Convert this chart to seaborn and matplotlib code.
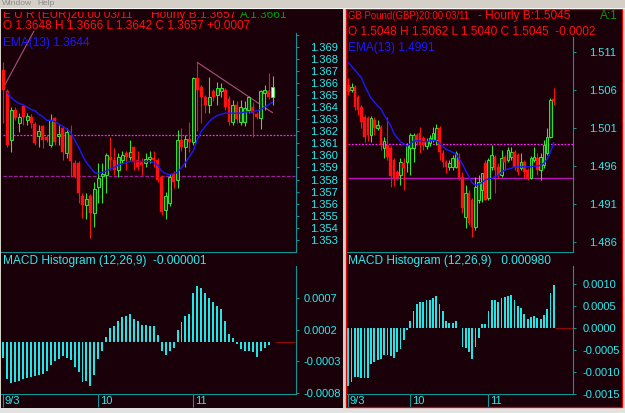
import numpy as np
import pandas as pd
import matplotlib
matplotlib.use("Agg")
import matplotlib.pyplot as plt
import matplotlib.transforms as mtransforms
from matplotlib import font_manager
from matplotlib.patches import Rectangle
import seaborn as sns

# ---------------- EUR window (left) ----------------
eur_open = [1.3671, 1.3653, 1.3613, 1.3638, 1.3627, 1.3641, 1.3629, 1.3632, 1.3626, 1.3616,
            1.3624, 1.3615, 1.3609, 1.3631, 1.3616, 1.3623, 1.3602, 1.3617, 1.3594, 1.3594,
            1.3566, 1.3559, 1.3566, 1.3552, 1.3574, 1.3583, 1.3584, 1.3599, 1.3596, 1.3588,
            1.3596, 1.3602, 1.3599, 1.3607, 1.3596, 1.3595, 1.3594, 1.3597, 1.3598, 1.3596,
            1.3582, 1.3555, 1.3561, 1.3585, 1.3580, 1.3613, 1.3607, 1.3614, 1.3611, 1.3664,
            1.3657, 1.3648, 1.3642, 1.3653, 1.3650, 1.3653, 1.3654, 1.3647, 1.3628, 1.3642,
            1.3628, 1.3628, 1.3638, 1.3640, 1.3634, 1.3631, 1.3652, 1.3653, 1.3648]
eur_high = [1.3677, 1.3655, 1.3640, 1.3640, 1.3635, 1.3642, 1.3635, 1.3634, 1.3628, 1.3625,
            1.3625, 1.3617, 1.3634, 1.3632, 1.3625, 1.3624, 1.3623, 1.3625, 1.3596, 1.3595,
            1.3569, 1.3569, 1.3568, 1.3578, 1.3594, 1.3594, 1.3602, 1.3615, 1.3606, 1.3602,
            1.3604, 1.3604, 1.3613, 1.3607, 1.3604, 1.3598, 1.3602, 1.3604, 1.3604, 1.3598,
            1.3584, 1.3570, 1.3585, 1.3587, 1.3621, 1.3623, 1.3617, 1.3628, 1.3665, 1.3677,
            1.3658, 1.3650, 1.3665, 1.3655, 1.3661, 1.3660, 1.3656, 1.3649, 1.3646, 1.3645,
            1.3646, 1.3645, 1.3649, 1.3644, 1.3636, 1.3654, 1.3658, 1.3668, 1.3666]
eur_low = [1.3627, 1.3607, 1.3603, 1.3629, 1.3619, 1.3625, 1.3625, 1.3623, 1.3609, 1.3607,
           1.3606, 1.3611, 1.3607, 1.3609, 1.3609, 1.3596, 1.3598, 1.3582, 1.3581, 1.3561,
           1.3548, 1.3547, 1.3532, 1.3541, 1.3561, 1.3561, 1.3569, 1.3588, 1.3584, 1.3582,
           1.3594, 1.3588, 1.3596, 1.3588, 1.3588, 1.3584, 1.3590, 1.3594, 1.3590, 1.3578,
           1.3551, 1.3547, 1.3558, 1.3573, 1.3573, 1.3604, 1.3590, 1.3603, 1.3609, 1.3620,
           1.3627, 1.3635, 1.3635, 1.3645, 1.3642, 1.3648, 1.3638, 1.3625, 1.3625, 1.3627,
           1.3625, 1.3624, 1.3635, 1.3615, 1.3630, 1.3622, 1.3638, 1.3647, 1.3642]
eur_close = [1.3654, 1.3609, 1.3638, 1.3631, 1.3632, 1.3632, 1.3633, 1.3627, 1.3610, 1.3620,
             1.3613, 1.3613, 1.3629, 1.3611, 1.3618, 1.3603, 1.3619, 1.3595, 1.3582, 1.3569,
             1.3559, 1.3564, 1.3552, 1.3572, 1.3581, 1.3585, 1.3600, 1.3596, 1.3588, 1.3599,
             1.3600, 1.3599, 1.3603, 1.3595, 1.3590, 1.3592, 1.3597, 1.3599, 1.3596, 1.3580,
             1.3553, 1.3566, 1.3582, 1.3578, 1.3613, 1.3607, 1.3614, 1.3611, 1.3664, 1.3654,
             1.3648, 1.3642, 1.3648, 1.3648, 1.3656, 1.3656, 1.3640, 1.3628, 1.3642, 1.3630,
             1.3640, 1.3639, 1.3648, 1.3635, 1.3632, 1.3653, 1.3654, 1.3648, 1.3657]
eur_ema13 = [np.nan, 1.3652, 1.3648, 1.3645, 1.3643, 1.3642, 1.3640, 1.3638, 1.3637, 1.3634,
             1.3632, 1.3629, 1.3629, 1.3628, 1.3626, 1.3624, 1.3622, 1.3619, 1.3613, 1.3607,
             1.3600, 1.3594, 1.3590, 1.3586, 1.3585, 1.3586, 1.3587, 1.3589, 1.3590, 1.3592,
             1.3593, 1.3594, 1.3595, 1.3595, 1.3595, 1.3595, 1.3595, 1.3595, 1.3594, 1.3592,
             1.3587, 1.3585, 1.3584, 1.3585, 1.3586, 1.3590, 1.3594, 1.3599, 1.3604, 1.3613,
             1.3620, 1.3624, 1.3628, 1.3631, 1.3633, 1.3634, 1.3635, 1.3635, 1.3635, 1.3635,
             1.3635, 1.3636, 1.3636, 1.3636, 1.3637, 1.3638, 1.3640, 1.3642, 1.3644]
eur_macd = [-0.00025, -0.00057, -0.00064, -0.00062, -0.00061, -0.00058, -0.00056, -0.00054, -0.00053, -0.00052,
            -0.00050, -0.00045, -0.00035, -0.00030, -0.00026, -0.00022, -0.00025, -0.00028, -0.00039, -0.00047,
            -0.00063, -0.00061, -0.00068, -0.00052, -0.00026, -0.00013, 0.00009, 0.00022, 0.00025, 0.00033,
            0.00039, 0.00041, 0.00044, 0.00037, 0.00033, 0.00027, 0.00027, 0.00026, 0.00025, 0.00011,
            -0.00013, -0.00020, -0.00013, -0.00009, 0.00020, 0.00032, 0.00041, 0.00045, 0.00078, 0.00088,
            0.00085, 0.00077, 0.00070, 0.00063, 0.00057, 0.00052, 0.00033, 0.00013, 0.00006, -0.00003,
            -0.00010, -0.00013, -0.00014, -0.00015, -0.00023, -0.00014, -0.00009, -0.00005, -0.000001]
eur_levels = [1.36167, 1.35827]
eur_trend_x = [[0, 7.75], [49, 68]]
eur_trend_y = [[1.3656, 1.3703], [1.3677, 1.36354]]
eur_price_ticks = [1.370, 1.369, 1.368, 1.367, 1.366, 1.365, 1.364, 1.363, 1.362, 1.361,
                   1.360, 1.359, 1.358, 1.357, 1.356, 1.355, 1.354, 1.353]
eur_price_labels = ['', '1.369', '1.368', '1.367', '1.366', '1.365', '1.364', '1.363', '1.362',
                    '1.361', '1.360', '1.359', '1.358', '1.357', '1.356', '1.355', '1.354', '1.353']
eur_macd_ticks = [0.0007, 0.0002, -0.0003, -0.0008]
eur_macd_labels = ['0.0007', '0.0002', '-0.0003', '-0.0008']
eur_date_ticks = [0, 24, 48]
date_labels = ['9/3', '10', '11']

# ---------------- GBP window (right) ----------------
gbp_open = [1.5066, 1.5060, 1.5064, 1.5051, 1.5037, 1.5024, 1.5023, 1.5001, 1.5020, 1.5010,
            1.5011, 1.4984, 1.4988, 1.4984, 1.4968, 1.4952, 1.4948, 1.4964, 1.4965, 1.4984,
            1.4984, 1.5001, 1.5003, 1.4997, 1.4986, 1.4990, 1.4994, 1.4994, 1.5010, 1.4977,
            1.4965, 1.4959, 1.4959, 1.4959, 1.4972, 1.4946, 1.4893, 1.4925, 1.4916, 1.4880,
            1.4916, 1.4929, 1.4964, 1.4918, 1.4959, 1.4972, 1.4959, 1.4948, 1.4972, 1.4968,
            1.4972, 1.4978, 1.4974, 1.4957, 1.4965, 1.4955, 1.4944, 1.4968, 1.4971, 1.4955,
            1.4961, 1.4977, 1.4998, 1.5048]
gbp_high = [1.5076, 1.5069, 1.5066, 1.5053, 1.5040, 1.5027, 1.5026, 1.5026, 1.5024, 1.5020,
            1.5014, 1.4998, 1.5024, 1.4986, 1.4971, 1.4955, 1.4971, 1.4971, 1.4990, 1.5003,
            1.5003, 1.5003, 1.5011, 1.4999, 1.4997, 1.5001, 1.5011, 1.5015, 1.5013, 1.4981,
            1.4968, 1.4968, 1.4974, 1.4980, 1.4977, 1.4952, 1.4935, 1.4929, 1.4918, 1.4946,
            1.4948, 1.4951, 1.4968, 1.4971, 1.4988, 1.4974, 1.4964, 1.4981, 1.4974, 1.4985,
            1.4985, 1.4981, 1.4977, 1.4977, 1.4968, 1.4957, 1.4973, 1.4985, 1.4977, 1.4977,
            1.4994, 1.5010, 1.5049, 1.5062]
gbp_low = [1.5053, 1.5057, 1.5034, 1.5027, 1.5010, 1.4992, 1.4993, 1.4992, 1.5001, 1.5007,
           1.4981, 1.4971, 1.4968, 1.4933, 1.4934, 1.4942, 1.4935, 1.4929, 1.4952, 1.4948,
           1.4965, 1.4988, 1.4977, 1.4981, 1.4982, 1.4986, 1.4992, 1.4988, 1.4968, 1.4959,
           1.4951, 1.4955, 1.4955, 1.4957, 1.4942, 1.4898, 1.4879, 1.4883, 1.4867, 1.4876,
           1.4912, 1.4913, 1.4916, 1.4916, 1.4955, 1.4925, 1.4944, 1.4946, 1.4955, 1.4965,
           1.4968, 1.4955, 1.4948, 1.4955, 1.4944, 1.4942, 1.4943, 1.4965, 1.4948, 1.4942,
           1.4957, 1.4974, 1.4997, 1.5040]
gbp_close = [1.5057, 1.5064, 1.5037, 1.5034, 1.5018, 1.4998, 1.5001, 1.5023, 1.5010, 1.5014,
             1.4988, 1.4993, 1.4972, 1.4947, 1.4944, 1.4944, 1.4965, 1.4957, 1.4988, 1.5001,
             1.5001, 1.4992, 1.4988, 1.4988, 1.4993, 1.4997, 1.5003, 1.5010, 1.4978, 1.4965,
             1.4959, 1.4964, 1.4971, 1.4977, 1.4944, 1.4905, 1.4925, 1.4885, 1.4880, 1.4933,
             1.4939, 1.4951, 1.4916, 1.4968, 1.4974, 1.4955, 1.4948, 1.4971, 1.4965, 1.4981,
             1.4978, 1.4959, 1.4952, 1.4965, 1.4952, 1.4944, 1.4971, 1.4972, 1.4955, 1.4972,
             1.4988, 1.4998, 1.5047, 1.5045]
gbp_ema13 = [1.5096, 1.5091, 1.5086, 1.5081, 1.5076, 1.5066, 1.5057, 1.5049, 1.5044, 1.5039,
             1.5035, 1.5027, 1.5020, 1.5013, 1.5003, 1.4997, 1.4992, 1.4989, 1.4986, 1.4989,
             1.4993, 1.4993, 1.4993, 1.4992, 1.4992, 1.4993, 1.4994, 1.4993, 1.4990, 1.4986,
             1.4982, 1.4980, 1.4978, 1.4976, 1.4969, 1.4963, 1.4954, 1.4946, 1.4938, 1.4935,
             1.4936, 1.4938, 1.4942, 1.4943, 1.4944, 1.4946, 1.4948, 1.4952, 1.4955, 1.4956,
             1.4957, 1.4959, 1.4959, 1.4959, 1.4959, 1.4959, 1.4959, 1.4960, 1.4960, 1.4961,
             1.4964, 1.4969, 1.4978, 1.4991]
gbp_macd = [-0.00132, -0.00123, -0.00111, -0.00111, -0.00114, -0.00115, -0.00115, -0.00083, -0.00077, -0.00074,
            -0.00070, -0.00062, -0.00061, -0.00064, -0.00068, -0.00055, -0.00047, -0.00028, -0.00005, 0.00017,
            0.00040, 0.00055, 0.00059, 0.00059, 0.00063, 0.00065, 0.00068, 0.00074, 0.00055, 0.00038,
            0.00017, 0.00012, 0.00012, 0.00017, -0.00001, -0.00043, -0.00045, -0.00055, -0.00070, -0.00043,
            -0.00023, 0.00008, 0.00008, 0.00040, 0.00065, 0.00065, 0.00059, 0.00068, 0.00070, 0.00074,
            0.00076, 0.00063, 0.00050, 0.00045, 0.00033, 0.00020, 0.00025, 0.00027, 0.00023, 0.00021,
            0.00030, 0.00044, 0.00080, 0.00098]
gbp_levels = [1.49893, 1.49440]
gbp_price_ticks = [1.511, 1.506, 1.501, 1.496, 1.491, 1.486]
gbp_price_labels = ['1.511', '1.506', '1.501', '1.496', '1.491', '1.486']
gbp_macd_ticks = [0.0010, 0.0005, 0.0, -0.0005, -0.0010, -0.0015]
gbp_macd_labels = ['0.0010', '0.0005', '0.0000', '-0.0005', '-0.0010', '-0.0015']
gbp_date_ticks = [0, 19, 43]

# ---------------- style ----------------
sns.set_theme(style="dark")
plt.rcParams['font.family'] = ['Liberation Sans', 'DejaVu Sans']
plt.rcParams['axes.unicode_minus'] = False

BG = '#1a0008'
RED = '#ff1010'
GREEN = '#33e633'
DKGREEN = '#0d400d'
BLUE = '#1a1aff'
CYAN = '#26eeee'
BARC = '#22e6e6'
TEAL = '#0e9696'
MAG = '#ff22ff'
PURP = '#9a1f9a'
TREND = '#a8527e'
GRAY = '#d4d0c8'

W, H = 625, 413
fig = plt.figure(figsize=(W / 100, H / 100), dpi=100, facecolor=BG)


def box(x0, y0, x1, y1):
    return [x0 / W, 1 - y1 / H, (x1 - x0) / W, (y1 - y0) / H]


def right_axis_style(ax, ticks, labels, pad):
    for s in ['top', 'left']:
        ax.spines[s].set_visible(False)
    for s in ['right', 'bottom']:
        ax.spines[s].set_color(TEAL)
        ax.spines[s].set_linewidth(0.8)
        ax.spines[s].set_visible(True)
    ax.yaxis.set_ticks_position('right')
    ax.set_yticks(ticks)
    ax.set_yticklabels(labels)
    ax.tick_params(axis='y', which='major', direction='out', length=2.2, width=0.7,
                   color=TEAL, labelcolor=CYAN, labelsize=8, pad=pad,
                   left=False, right=True, labelleft=False, labelright=True)
    ax.grid(False)
    ax.set_xlabel('')
    ax.set_ylabel('')


def price_panel(rect, xlim, ylim, o, h, l, c, ema, levels, level_styles,
                ticks, labels, pad, body_w, min_h):
    ax = fig.add_axes(box(*rect))
    ax.set_facecolor('none')
    o, h, l, c = map(np.asarray, (o, h, l, c))
    x = np.arange(len(o))
    up = c >= o
    bottom = np.minimum(o, c)
    height = np.maximum(np.abs(c - o), min_h)
    ax.vlines(x[up], l[up], h[up], color=GREEN, lw=0.8, zorder=2)
    ax.vlines(x[~up], l[~up], h[~up], color=RED, lw=0.8, zorder=2)
    face = np.array([DKGREEN] * len(x), dtype=object)
    face[-1] = '#f2f2f2'
    ax.bar(x[up], height[up], bottom=bottom[up], width=body_w,
           color=list(face[up]), edgecolor=GREEN, linewidth=0.7, zorder=3)
    ax.bar(x[~up], height[~up], bottom=bottom[~up], width=body_w,
           color=RED, edgecolor=RED, linewidth=0.3, zorder=3)
    df = pd.DataFrame({'bar': x, 'ema': ema}).dropna()
    sns.lineplot(data=df, x='bar', y='ema', ax=ax, color=BLUE, lw=1.0, zorder=4)
    for lev, (col, ls) in zip(levels, level_styles):
        ax.hlines(lev, 0, xlim[1], colors=col, linestyles=ls, lw=0.9, zorder=1)
    ax.set_xlim(*xlim)
    ax.set_ylim(*ylim)
    ax.tick_params(axis='x', bottom=False, labelbottom=False)
    right_axis_style(ax, ticks, labels, pad)
    return ax


def macd_panel(rect, xlim, ylim, vals, ticks, labels, pad, bar_w, date_ticks):
    ax = fig.add_axes(box(*rect))
    ax.set_facecolor('none')
    x = np.arange(len(vals))
    sns.barplot(x=x, y=vals, native_scale=True, width=bar_w, color=BARC,
                saturation=1, errorbar=None, linewidth=0, ax=ax)
    ax.hlines(0, x[-1] + 0.5, xlim[1], colors='#8a0a0a', lw=0.9)
    ax.set_xlim(*xlim)
    ax.set_ylim(*ylim)
    right_axis_style(ax, ticks, labels, pad)
    ax.set_xticks(date_ticks)
    ax.tick_params(axis='x', which='major', bottom=True, labelbottom=False,
                   direction='out', length=9.5, width=0.8, color=TEAL)
    tr = mtransforms.blended_transform_factory(ax.transData, ax.transAxes)
    tr = mtransforms.offset_copy(tr, fig=fig, x=1.5, y=-2.5, units='dots')
    for d, lab in zip(date_ticks, date_labels):
        ax.text(d, 0, lab, transform=tr, color=CYAN, fontsize=8,
                ha='left', va='top')
    return ax


# left window
axl = price_panel((1, 33, 295.5, 252), (-0.581, 73.79), (1.352005, 1.370134),
                  eur_open, eur_high, eur_low, eur_close, eur_ema13, eur_levels,
                  [(MAG, (0, (1.5, 1.2))), (PURP, (0, (3, 1.2)))],
                  eur_price_ticks, eur_price_labels, 8.5, 0.75, 0.0001)
for tx, ty in zip(eur_trend_x, eur_trend_y):
    axl.plot(tx, ty, color=TREND, lw=0.8, clip_on=False, zorder=1)
macd_panel((1, 266, 295.5, 394), (-0.581, 73.79), (-0.000811, 0.001197),
           eur_macd, eur_macd_ticks, eur_macd_labels, 3.5, 0.5, eur_date_ticks)

# right window
price_panel((346.5, 37, 572.7, 252), (-0.552, 68.83), (1.484728, 1.512928),
            gbp_open, gbp_high, gbp_low, gbp_close, gbp_ema13, gbp_levels,
            [(MAG, (0, (1.5, 1.2))), ('#c010c0', '-')],
            gbp_price_ticks, gbp_price_labels, 9.5, 0.8, 0.00013)
macd_panel((346.5, 266, 572.7, 394), (-0.552, 68.83), (-0.00151, 0.001418),
           gbp_macd, gbp_macd_ticks, gbp_macd_labels, 5.0, 0.55, gbp_date_ticks)


# text overlays (pixel coordinates, clipped to each window)
def overlay(x0, y0, x1, y1):
    ax = fig.add_axes(box(x0, y0, x1, y1))
    ax.set_xlim(x0, x1)
    ax.set_ylim(y1, y0)
    ax.axis('off')
    ax.set_zorder(5)
    ax.patch.set_alpha(0)
    return ax


TFS = 8.6
installed = {f.name for f in font_manager.fontManager.ttflist}
if 'Liberation Sans Narrow' in installed:
    gb_font, gb_size = ['Liberation Sans Narrow', 'DejaVu Sans'], 8.2
else:
    gb_font, gb_size = ['Liberation Sans', 'DejaVu Sans'], 6.9

ol = overlay(1, 11.5, 342.5, 407)
ol.text(3, 18.5, 'E U R (EUR)20:00 03/11', color=RED, fontsize=TFS, va='baseline', clip_on=True)
ol.text(151, 18.5, 'Hourly B:1.3657', color=RED, fontsize=TFS, va='baseline', clip_on=True)
ol.text(240, 18.5, 'A:1.3661', color='#00a000', fontsize=TFS, va='baseline', clip_on=True)
ol.text(3, 29, 'O 1.3648 H 1.3666 L 1.3642 C 1.3657 +0.0007', color=RED, fontsize=TFS,
        va='baseline', clip_on=True)
ol.text(3, 46, 'EMA(13) 1.3644', color=BLUE, fontsize=TFS, va='baseline', clip_on=True)
ol.text(3, 264, 'MACD Histogram (12,26,9)  -0.000001', color=CYAN, fontsize=TFS,
        va='baseline', clip_on=True)

orr = overlay(346, 9.5, 621.5, 407)
orr.text(348.3, 19.5, 'GB Pound(GBP)20:00 03/11', color=RED, fontsize=gb_size,
         family=gb_font, va='baseline', clip_on=True)
orr.text(477.7, 19.5, '- Hourly B:1.5045', color=RED, fontsize=TFS, va='baseline', clip_on=True)
orr.text(600, 19.5, 'A:1', color='#00a000', fontsize=TFS, va='baseline', clip_on=True)
orr.text(348.3, 35, 'O 1.5048 H 1.5062 L 1.5040 C 1.5045  -0.0002', color=RED, fontsize=TFS,
         va='baseline', clip_on=True)
orr.text(348.3, 51, 'EMA(13) 1.4991', color=BLUE, fontsize=TFS, va='baseline', clip_on=True)
orr.text(348.3, 264, 'MACD Histogram (12,26,9)   0.000980', color=CYAN, fontsize=TFS,
         va='baseline', clip_on=True)

# window chrome
ch = overlay(0, 0, W, H)
ch.set_zorder(6)
ch.add_patch(Rectangle((0, 0), W, 7.5, color=GRAY, lw=0))
ch.plot([0, W], [7.5, 7.5], color='#f4f4f4', lw=0.8)
ch.text(2, 4.8, 'Window', color='#8c8c8c', fontsize=6, va='baseline')
ch.text(37, 4.8, 'Help', color='#8c8c8c', fontsize=6, va='baseline')
ch.add_patch(Rectangle((342.5, 7.5), 3, H, color=GRAY, lw=0))
ch.add_patch(Rectangle((622, 7.5), 3, H, color=GRAY, lw=0))
ch.add_patch(Rectangle((0, 7.5), 1, H, color=GRAY, lw=0))
ch.add_patch(Rectangle((0, 407.5), W, 6, color='#e2e2e2', lw=0))
ch.add_patch(Rectangle((345.8, 8.8), 275.9, 398.4, fill=False, edgecolor='#e00000', lw=0.9))

fig.savefig('out.png', dpi=100, facecolor=BG)
